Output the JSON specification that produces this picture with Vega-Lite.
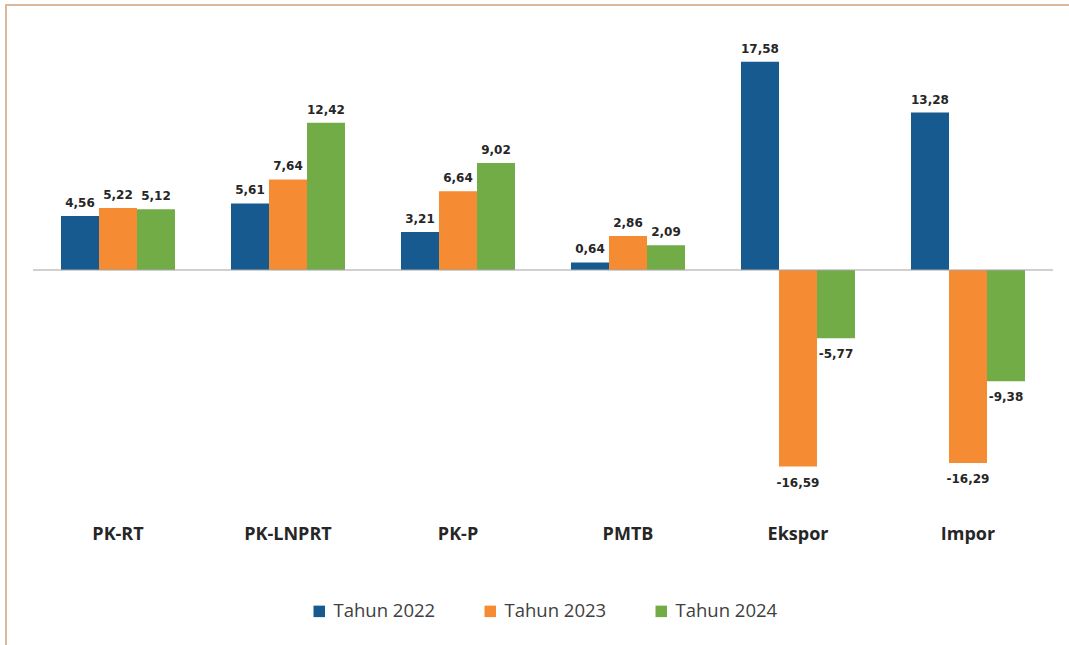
{
  "$schema": "https://vega.github.io/schema/vega-lite/v6.json",
  "width": 1064,
  "height": 641,
  "autosize": "none",
  "padding": {"left": 6, "top": 5, "right": -1, "bottom": -1},
  "background": "white",
  "config": {
    "locale": {"number": {"decimal": ",", "thousands": ".", "grouping": [3], "currency": ["Rp", ""], "minus": "-"}},
    "view": {"stroke": "#d9b89c", "strokeWidth": 2}
  },
  "data": {
    "values": [
      {"kategori": "PK-RT", "tahun": "Tahun 2022", "nilai": 4.56},
      {"kategori": "PK-RT", "tahun": "Tahun 2023", "nilai": 5.22},
      {"kategori": "PK-RT", "tahun": "Tahun 2024", "nilai": 5.12},
      {"kategori": "PK-LNPRT", "tahun": "Tahun 2022", "nilai": 5.61},
      {"kategori": "PK-LNPRT", "tahun": "Tahun 2023", "nilai": 7.64},
      {"kategori": "PK-LNPRT", "tahun": "Tahun 2024", "nilai": 12.42},
      {"kategori": "PK-P", "tahun": "Tahun 2022", "nilai": 3.21},
      {"kategori": "PK-P", "tahun": "Tahun 2023", "nilai": 6.64},
      {"kategori": "PK-P", "tahun": "Tahun 2024", "nilai": 9.02},
      {"kategori": "PMTB", "tahun": "Tahun 2022", "nilai": 0.64},
      {"kategori": "PMTB", "tahun": "Tahun 2023", "nilai": 2.86},
      {"kategori": "PMTB", "tahun": "Tahun 2024", "nilai": 2.09},
      {"kategori": "Ekspor", "tahun": "Tahun 2022", "nilai": 17.58},
      {"kategori": "Ekspor", "tahun": "Tahun 2023", "nilai": -16.59},
      {"kategori": "Ekspor", "tahun": "Tahun 2024", "nilai": -5.77},
      {"kategori": "Impor", "tahun": "Tahun 2022", "nilai": 13.28},
      {"kategori": "Impor", "tahun": "Tahun 2023", "nilai": -16.29},
      {"kategori": "Impor", "tahun": "Tahun 2024", "nilai": -9.38}
    ]
  },
  "encoding": {
    "x": {
      "field": "kategori",
      "type": "nominal",
      "sort": null,
      "scale": {"paddingInner": 0.3294, "paddingOuter": 0.2941, "align": 0.55},
      "axis": {
        "orient": "bottom",
        "offset": -121,
        "labelPadding": 0,
        "ticks": false,
        "domain": false,
        "grid": false,
        "title": null,
        "labelAngle": 0,
        "labelFont": "Open Sans",
        "labelFontWeight": "bold",
        "labelFontSize": 18,
        "labelColor": "#262626"
      }
    },
    "y": {
      "field": "nilai",
      "type": "quantitative",
      "scale": {"domain": [-31.73, 22.36], "nice": false, "zero": false},
      "axis": null
    }
  },
  "layer": [
    {
      "mark": {"type": "bar"},
      "encoding": {
        "xOffset": {"field": "tahun", "type": "nominal", "sort": null, "scale": {"paddingInner": 0, "paddingOuter": 0}},
        "color": {
          "field": "tahun",
          "type": "nominal",
          "sort": null,
          "scale": {"domain": ["Tahun 2022", "Tahun 2023", "Tahun 2024"], "range": ["#175a8f", "#f58b33", "#71ac47"]},
          "legend": {
            "orient": "none",
            "direction": "horizontal",
            "legendX": 304,
            "legendY": 597,
            "title": null,
            "padding": 0,
            "symbolType": "square",
            "symbolSize": 132,
            "symbolStrokeWidth": 0,
            "labelFont": "Open Sans",
            "labelFontSize": 18.5,
            "labelColor": "#404040",
            "labelOffset": 5,
            "columnPadding": 45
          }
        }
      }
    },
    {
      "transform": [{"filter": "datum.tahun == 'Tahun 2022'"}],
      "mark": {"type": "tick", "orient": "horizontal", "size": 170, "thickness": 1.5, "color": "#a6a6a6"},
      "encoding": {"y": {"datum": 0}}
    },
    {
      "transform": [{"filter": "datum.nilai >= 0"}],
      "mark": {"type": "text", "baseline": "alphabetic", "dy": -9, "font": "DejaVu Sans", "fontWeight": "bold", "fontSize": 12, "color": "#262626"},
      "encoding": {
        "xOffset": {"field": "tahun", "type": "nominal", "sort": null},
        "text": {"field": "nilai", "type": "quantitative", "format": ".2f"}
      }
    },
    {
      "transform": [{"filter": "datum.nilai < 0"}],
      "mark": {"type": "text", "baseline": "top", "dy": 11, "font": "DejaVu Sans", "fontWeight": "bold", "fontSize": 12, "color": "#262626"},
      "encoding": {
        "xOffset": {"field": "tahun", "type": "nominal", "sort": null},
        "text": {"field": "nilai", "type": "quantitative", "format": ".2f"}
      }
    }
  ]
}
